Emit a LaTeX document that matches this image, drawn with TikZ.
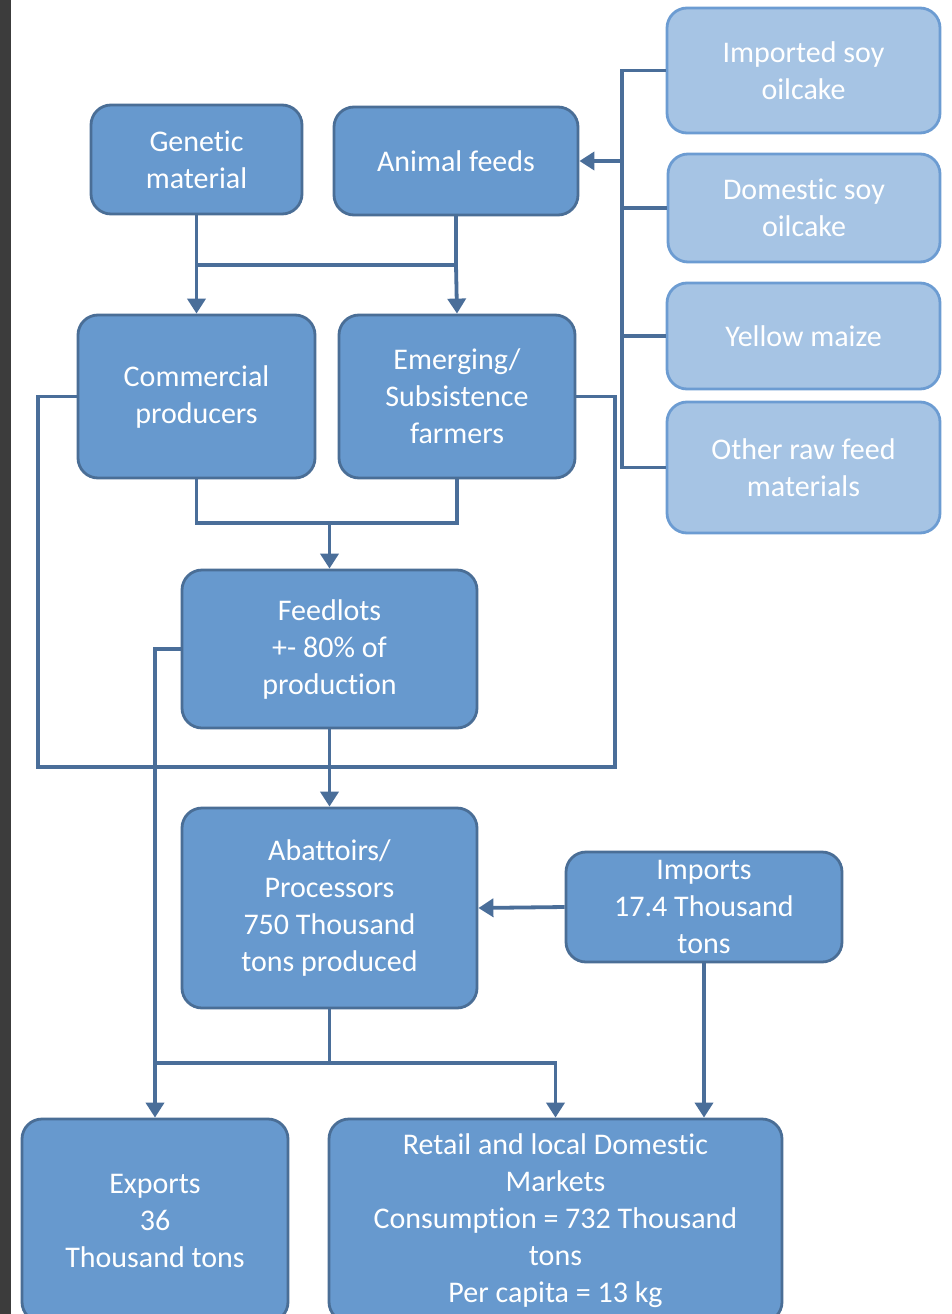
\documentclass[tikz,border=0pt]{standalone}
\usepackage{fontspec}
\setmainfont{Carlito}[RawFeature={-liga;-calt;-clig;-dlig}]
\usetikzlibrary{arrows.meta}
\definecolor{boxfill}{RGB}{103,153,206}
\definecolor{boxline}{RGB}{74,110,150}
\definecolor{lightfill}{RGB}{166,196,228}
\definecolor{lightline}{RGB}{108,156,210}
\definecolor{linecol}{RGB}{74,110,153}
\definecolor{stripcol}{RGB}{60,60,60}
\begin{document}
\begin{tikzpicture}[x=1pt,y=-1pt,
  box/.style={draw=boxline, fill=boxfill, line width=2.8pt, rounded corners=20pt, text=white, align=center, inner sep=0pt, font=\fontsize{30}{37}\selectfont},
  lbox/.style={box, draw=lightline, fill=lightfill},
  conn/.style={draw=linecol, line width=3.8pt},
  arr/.style={conn, -{Triangle[length=15pt,width=18pt]}}]
\useasboundingbox (0,0) rectangle (952,1314);
\clip (0,0) rectangle (952,1314);
\fill[white] (0,0) rectangle (952,1314);
\fill[stripcol] (0,0) rectangle (11,1314);

% nodes
\node[box, minimum width=211pt, minimum height=109pt] (gen) at (196.5,159.5) {Genetic\\material};
\node[box, minimum width=244pt, minimum height=108pt] (feeds) at (456,161) {Animal feeds};
\node[lbox, minimum width=273pt, minimum height=125pt] (imp) at (803.5,70.5) {Imported soy\\oilcake};
\node[lbox, minimum width=272pt, minimum height=108pt] (dom) at (804,208) {Domestic soy\\oilcake};
\node[lbox, minimum width=273pt, minimum height=106pt] (maize) at (803.5,336) {Yellow maize};
\node[lbox, minimum width=273pt, minimum height=131pt] (other) at (803.5,467.5) {Other raw feed\\materials};
\node[box, minimum width=237pt, minimum height=163pt] (comm) at (196.5,396.5) {Commercial\\producers};
\node[box, minimum width=236pt, minimum height=163pt] (emer) at (457,396.5) {Emerging/\\Subsistence\\farmers};
\node[box, minimum width=295pt, minimum height=158pt] (feedl) at (329.5,649) {Feedlots\\+- 80\% of\\production};
\node[box, minimum width=295pt, minimum height=200pt] (abat) at (329.5,908) {Abattoirs/\\Processors\\750 Thousand\\tons produced};
\node[box, minimum width=276pt, minimum height=110pt] (imports) at (704,907) {Imports\\17.4 Thousand\\tons};
\node[box, minimum width=266pt, minimum height=203pt] (exports) at (155,1220.5) {Exports\\36\\Thousand tons};
\node[box, minimum width=453pt, minimum height=203pt] (retail) at (555.5,1220.5) {Retail and local Domestic\\Markets\\Consumption = 732 Thousand\\tons\\Per capita = 13 kg};

% helper coordinates
\coordinate (busx) at (622,0);
\coordinate (j1) at (0,265);
\coordinate (j2) at (0,523);
\coordinate (j3) at (0,767);
\coordinate (j4) at (0,1063);
\coordinate (lx) at (38,0);
\coordinate (rx) at (615,0);

% feed inputs bus
\draw[conn] (imp.west) -- (imp.west -| busx) |- (other.west);
\draw[conn] (dom.west) -- (dom.west -| busx);
\draw[conn] (maize.west) -- (maize.west -| busx);
\draw[arr] (feeds.east -| busx) -- (feeds.east);

% genetic / feeds to producers
\draw[conn] (gen.south) |- (feeds.south |- j1) -- (feeds.south);
\draw[arr] (gen.south |- j1) -- (comm.north);
\draw[arr] (feeds.south |- j1) -- (emer.north);

% producers to feedlots
\draw[conn] (comm.south) |- (emer.south |- j2) -- (emer.south);
\draw[arr] (feedl.north |- j2) -- (feedl.north);

% outer loop
\draw[conn] (comm.west) -| (lx |- j3) -| (rx |- emer.east) -- (emer.east);

% feedlots to abattoirs
\draw[arr] (feedl.south) -- (abat.north);

% feedlots to exports
\draw[arr] (feedl.west) -| (exports.north);

% abattoirs to markets
\draw[conn] (abat.south) -- (abat.south |- j4);
\draw[arr] (exports.north |- j4) -| (retail.north);

% imports
\draw[arr] (imports.west) -- (abat.east);
\draw[arr] (imports.south) -- (imports.south |- retail.north);
\end{tikzpicture}
\end{document}
